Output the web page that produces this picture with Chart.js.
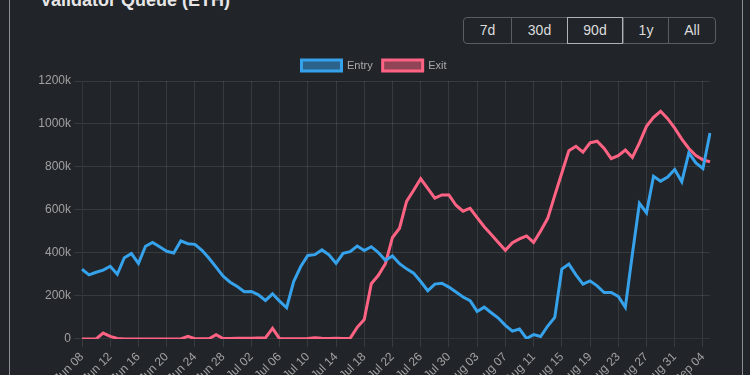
<!DOCTYPE html>
<html>
<head>
<meta charset="utf-8">
<script src="https://cdn.jsdelivr.net/npm/chart.js@4.4.0/dist/chart.umd.min.js"></script>
<style>
  html, body { margin: 0; padding: 0; width: 750px; height: 375px; overflow: hidden; background: #212529; font-family: "Liberation Sans", Arial, Helvetica, sans-serif; }
  #card { position: absolute; left: 9px; top: -40px; width: 732px; height: 460px; border-left: 1px solid #8a8d91; border-right: 1px solid #8a8d91; }
  #title { position: absolute; left: 40px; top: -9px; font-size: 18px; line-height: 18px; font-weight: bold; color: #e6e6e6; white-space: nowrap; }
  #btns { position: absolute; left: 463px; top: 17px; height: 27px; display: flex; border: 1px solid #5a5e63; border-radius: 4px; box-sizing: border-box; }
  #btns div { height: 25px; line-height: 25px; font-size: 14px; color: #dcdcdc; text-align: center; border-left: 1px solid #5a5e63; box-sizing: border-box; }
  #btns div:first-child { border-left: none; }
  #btns div.active { border: 1px solid #b0b3b8; height: 27px; line-height: 25px; margin-top: -1px; }
  #cv { position: absolute; left: 0; top: 50px; }
</style>
</head>
<body>
<div id="card"></div>
<div id="title">Validator Queue (ETH)</div>
<div id="btns">
  <div style="width:47px">7d</div>
  <div style="width:56px">30d</div>
  <div class="active" style="width:56px">90d</div>
  <div style="width:45px">1y</div>
  <div style="width:47px">All</div>
</div>
<canvas id="cv" width="750" height="340"></canvas>
<script>
const dates = [
  "Jun 08","Jun 09","Jun 10","Jun 11","Jun 12","Jun 13","Jun 14","Jun 15","Jun 16","Jun 17",
  "Jun 18","Jun 19","Jun 20","Jun 21","Jun 22","Jun 23","Jun 24","Jun 25","Jun 26","Jun 27",
  "Jun 28","Jun 29","Jun 30","Jul 01","Jul 02","Jul 03","Jul 04","Jul 05","Jul 06","Jul 07",
  "Jul 08","Jul 09","Jul 10","Jul 11","Jul 12","Jul 13","Jul 14","Jul 15","Jul 16","Jul 17",
  "Jul 18","Jul 19","Jul 20","Jul 21","Jul 22","Jul 23","Jul 24","Jul 25","Jul 26","Jul 27",
  "Jul 28","Jul 29","Jul 30","Jul 31","Aug 01","Aug 02","Aug 03","Aug 04","Aug 05","Aug 06",
  "Aug 07","Aug 08","Aug 09","Aug 10","Aug 11","Aug 12","Aug 13","Aug 14","Aug 15","Aug 16",
  "Aug 17","Aug 18","Aug 19","Aug 20","Aug 21","Aug 22","Aug 23","Aug 24","Aug 25","Aug 26",
  "Aug 27","Aug 28","Aug 29","Aug 30","Aug 31","Sep 01","Sep 02","Sep 03","Sep 04","Sep 05"
];
const entryK = [
  324,298,310,320,338,301,378,397,351,431,
  449,429,408,400,456,443,440,412,375,334,
  292,264,244,220,221,205,179,210,176,145,
  267,337,388,392,414,391,352,398,406,432,
  411,429,402,366,386,350,326,306,267,224,
  255,259,241,218,195,178,128,148,122,97,
  63,36,46,2,20,11,60,100,325,348,
  298,255,270,247,216,216,198,147,395,631,
  587,757,734,753,788,731,866,819,793,958
];
const exitK = [
  0,0,0,27,12,2,0,0,0,0,
  0,0,0,0,0,12,1,1,1,20,
  2,2,3,3,3,4,5,49,1,1,
  1,1,2,5,3,2,3,2,3,54,
  90,257,296,350,472,515,640,692,745,700,
  655,670,670,622,594,608,564,522,486,449,
  412,448,465,479,449,502,561,668,772,876,
  896,869,912,920,886,839,853,879,845,912,
  989,1031,1059,1025,981,930,886,853,833,824
];
const yTicks = [0, 200000, 400000, 600000, 800000, 1000000, 1200000];
const tickEvery = 4;

const toUnits = a => a.map(v => v * 1000);

new Chart(document.getElementById('cv'), {
  type: 'line',
  data: {
    labels: dates,
    datasets: [
      { label: 'Entry', data: toUnits(entryK), borderColor: 'rgb(54,162,235)', backgroundColor: 'rgba(54,162,235,0.5)', borderWidth: 3, pointRadius: 0, tension: 0 },
      { label: 'Exit', data: toUnits(exitK), borderColor: 'rgb(255,99,132)', backgroundColor: 'rgba(255,99,132,0.5)', borderWidth: 3, pointRadius: 0, tension: 0 }
    ]
  },
  options: {
    responsive: false,
    animation: false,
    layout: { padding: { left: 38, right: 40, top: 0, bottom: 0 } },
    plugins: {
      legend: { labels: { color: '#aaaaaa', font: { size: 11 } } },
      tooltip: { enabled: false }
    },
    scales: {
      x: {
        grid: { color: 'rgba(255,255,255,0.1)' },
        ticks: {
          color: '#a0a0a0', autoSkip: false, minRotation: 45, maxRotation: 45,
          callback: function(v, i) { return i % tickEvery === 0 ? dates[i] : null; }
        }
      },
      y: {
        min: yTicks[0], max: yTicks[yTicks.length - 1],
        afterBuildTicks: s => { s.ticks = yTicks.map(v => ({ value: v })); },
        afterFit: s => { s.width = 44; },
        grid: { color: 'rgba(255,255,255,0.1)' },
        ticks: { color: '#a0a0a0', callback: v => v === 0 ? '0' : (v / 1000) + 'k' }
      }
    }
  }
});
</script>
</body>
</html>
